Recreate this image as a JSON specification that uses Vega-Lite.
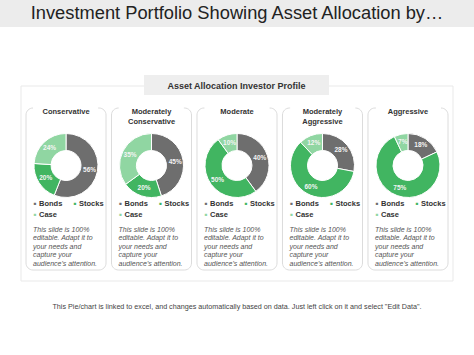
{
  "$schema": "https://vega.github.io/schema/vega-lite/v6.json",
  "width": 474,
  "height": 355,
  "padding": 0,
  "autosize": {"type": "none"},
  "background": "white",
  "config": {
    "view": {"stroke": null},
    "axis": {"disable": true},
    "legend": {"disable": true},
    "font": "Liberation Sans"
  },
  "datasets": {
    "alloc": [
      {"profile": "Conservative", "asset": "Bonds", "pct": 56, "order": 1},
      {"profile": "Conservative", "asset": "Stocks", "pct": 20, "order": 2},
      {"profile": "Conservative", "asset": "Case", "pct": 24, "order": 3},
      {"profile": "Moderately Conservative", "asset": "Bonds", "pct": 45, "order": 1},
      {"profile": "Moderately Conservative", "asset": "Stocks", "pct": 20, "order": 2},
      {"profile": "Moderately Conservative", "asset": "Case", "pct": 35, "order": 3},
      {"profile": "Moderate", "asset": "Bonds", "pct": 40, "order": 1},
      {"profile": "Moderate", "asset": "Stocks", "pct": 50, "order": 2},
      {"profile": "Moderate", "asset": "Case", "pct": 10, "order": 3},
      {"profile": "Moderately Aggressive", "asset": "Bonds", "pct": 28, "order": 1},
      {"profile": "Moderately Aggressive", "asset": "Stocks", "pct": 60, "order": 2},
      {"profile": "Moderately Aggressive", "asset": "Case", "pct": 12, "order": 3},
      {"profile": "Aggressive", "asset": "Bonds", "pct": 18, "order": 1},
      {"profile": "Aggressive", "asset": "Stocks", "pct": 75, "order": 2},
      {"profile": "Aggressive", "asset": "Case", "pct": 7, "order": 3}
    ],
    "panels": [
      {"profile": "Conservative", "title": "Conservative", "note": "This slide is 100%\neditable. Adapt it to\nyour needs and\ncapture your\naudience's attention."},
      {"profile": "Moderately Conservative", "title": "Moderately\nConservative", "note": "This slide is 100%\neditable. Adapt it to\nyour needs and\ncapture your\naudience's attention."},
      {"profile": "Moderate", "title": "Moderate", "note": "This slide is 100%\neditable. Adapt it to\nyour needs and\ncapture your\naudience's attention."},
      {"profile": "Moderately Aggressive", "title": "Moderately\nAggressive", "note": "This slide is 100%\neditable. Adapt it to\nyour needs and\ncapture your\naudience's attention."},
      {"profile": "Aggressive", "title": "Aggressive", "note": "This slide is 100%\neditable. Adapt it to\nyour needs and\ncapture your\naudience's attention."}
    ],
    "titles": [
      {"kind": "main", "label": "Investment Portfolio Showing Asset Allocation by…"},
      {"kind": "header", "label": "Asset Allocation Investor Profile"},
      {"kind": "foot", "label": "This Pie/chart is linked to excel, and changes automatically based on data. Just left click on it and select \"Edit Data\"."}
    ]
  },
  "resolve": {"scale": {"x": "independent", "color": "shared"}},
  "layer": [
    {
      "data": {"values": [{}]},
      "mark": {"type": "rect", "fill": "#ececec"},
      "encoding": {
        "y": {"datum": 0, "type": "quantitative", "scale": {"domain": [0, 355], "reverse": true, "zero": false, "nice": false}},
        "y2": {"datum": 27}
      }
    },
    {
      "data": {"name": "titles"},
      "transform": [{"filter": "datum.kind === 'main'"}],
      "mark": {"type": "text", "fontSize": 18.3, "fill": "#222222", "baseline": "middle", "align": "center"},
      "encoding": {
        "y": {"datum": 14, "type": "quantitative"},
        "text": {"field": "label"}
      }
    },
    {
      "data": {"values": [{}]},
      "mark": {"type": "rect", "fill": "white", "stroke": "#e9e9e9", "strokeWidth": 1},
      "encoding": {
        "x": {"datum": 21, "type": "quantitative", "scale": {"domain": [0, 474], "zero": false, "nice": false}},
        "x2": {"datum": 453},
        "y": {"datum": 86, "type": "quantitative"},
        "y2": {"datum": 281}
      }
    },
    {
      "data": {"values": [{}]},
      "mark": {"type": "rect", "fill": "#eeeeee"},
      "encoding": {
        "x": {"datum": 144, "type": "quantitative", "scale": {"domain": [0, 474], "zero": false, "nice": false}},
        "x2": {"datum": 329},
        "y": {"datum": 75, "type": "quantitative"},
        "y2": {"datum": 95}
      }
    },
    {
      "data": {"name": "titles"},
      "transform": [{"filter": "datum.kind === 'header'"}],
      "mark": {"type": "text", "fontSize": 9, "fontWeight": "bold", "fill": "#333333", "baseline": "middle", "align": "center"},
      "encoding": {
        "x": {"datum": 236.5, "type": "quantitative", "scale": {"domain": [0, 474], "zero": false, "nice": false}},
        "y": {"datum": 85.5, "type": "quantitative"},
        "text": {"field": "label"}
      }
    },
    {
      "data": {"name": "panels"},
      "mark": {"type": "rect", "fill": "white", "stroke": "#dcdcdc", "strokeWidth": 1, "cornerRadius": 7},
      "encoding": {
        "x": {"field": "profile", "type": "nominal", "sort": null, "scale": {"type": "band", "range": [26, 448], "paddingInner": 0.064, "paddingOuter": 0}},
        "y": {"datum": 108, "type": "quantitative"},
        "y2": {"datum": 270}
      }
    },
    {
      "data": {"name": "panels"},
      "mark": {"type": "rect", "fill": "white"},
      "encoding": {
        "x": {"field": "profile", "type": "nominal", "sort": null, "scale": {"type": "band", "range": [33, 441], "paddingInner": 0.24, "paddingOuter": 0}},
        "y": {"datum": 106, "type": "quantitative"},
        "y2": {"datum": 110}
      }
    },
    {
      "data": {"name": "panels"},
      "mark": {"type": "text", "fontSize": 7.5, "fontWeight": "bold", "fill": "#333333", "baseline": "top", "align": "center", "lineBreak": "\n", "lineHeight": 10},
      "encoding": {
        "x": {"field": "profile", "type": "nominal", "sort": null, "scale": {"type": "band", "range": [26, 448], "paddingInner": 0.064, "paddingOuter": 0}},
        "y": {"datum": 108, "type": "quantitative"},
        "text": {"field": "title"}
      }
    },
    {
      "data": {"name": "alloc"},
      "transform": [
        {"stack": "pct", "groupby": ["profile"], "sort": [{"field": "order"}], "as": ["t0", "t1"]}
      ],
      "mark": {"type": "arc", "outerRadius": 32, "innerRadius": 15, "stroke": "white", "strokeWidth": 1},
      "encoding": {
        "x": {"field": "profile", "type": "nominal", "sort": null, "scale": {"type": "band", "range": [26, 448], "paddingInner": 0.064, "paddingOuter": 0}},
        "y": {"datum": 165.5, "type": "quantitative"},
        "theta": {"field": "t0", "type": "quantitative", "stack": null, "scale": {"domain": [0, 100], "zero": true, "nice": false}},
        "theta2": {"field": "t1"},
        "color": {"field": "asset", "type": "nominal", "scale": {"domain": ["Bonds", "Stocks", "Case"], "range": ["#6e6e6e", "#41b561", "#90d6a2"]}, "legend": null}
      }
    },
    {
      "data": {"name": "alloc"},
      "transform": [
        {"stack": "pct", "groupby": ["profile"], "sort": [{"field": "order"}], "as": ["t0", "t1"]},
        {"calculate": "(datum.t0 + datum.t1) / 2", "as": "mid"},
        {"calculate": "datum.pct + '%'", "as": "label"}
      ],
      "mark": {"type": "text", "radius": 24, "fontSize": 6.5, "fontWeight": "bold", "fill": "#f4f4f4", "baseline": "middle", "align": "center"},
      "encoding": {
        "x": {"field": "profile", "type": "nominal", "sort": null, "scale": {"type": "band", "range": [26, 448], "paddingInner": 0.064, "paddingOuter": 0}},
        "y": {"datum": 165.5, "type": "quantitative"},
        "theta": {"field": "mid", "type": "quantitative", "stack": null},
        "text": {"field": "label"}
      }
    },
    {
      "data": {"name": "alloc"},
      "transform": [{"filter": "datum.asset === 'Bonds'"}],
      "mark": {"type": "text", "text": "■", "fontSize": 4.5, "dx": -31, "baseline": "middle", "align": "center"},
      "encoding": {
        "x": {"field": "profile", "type": "nominal", "sort": null, "scale": {"type": "band", "range": [26, 448], "paddingInner": 0.064, "paddingOuter": 0}},
        "y": {"datum": 204, "type": "quantitative"},
        "color": {"field": "asset", "type": "nominal", "legend": null}
      }
    },
    {
      "data": {"name": "alloc"},
      "transform": [{"filter": "datum.asset === 'Stocks'"}],
      "mark": {"type": "text", "text": "■", "fontSize": 4.5, "dx": 9, "baseline": "middle", "align": "center"},
      "encoding": {
        "x": {"field": "profile", "type": "nominal", "sort": null, "scale": {"type": "band", "range": [26, 448], "paddingInner": 0.064, "paddingOuter": 0}},
        "y": {"datum": 204, "type": "quantitative"},
        "color": {"field": "asset", "type": "nominal", "legend": null}
      }
    },
    {
      "data": {"name": "alloc"},
      "transform": [{"filter": "datum.asset === 'Case'"}],
      "mark": {"type": "text", "text": "■", "fontSize": 4.5, "dx": -31, "baseline": "middle", "align": "center"},
      "encoding": {
        "x": {"field": "profile", "type": "nominal", "sort": null, "scale": {"type": "band", "range": [26, 448], "paddingInner": 0.064, "paddingOuter": 0}},
        "y": {"datum": 215, "type": "quantitative"},
        "color": {"field": "asset", "type": "nominal", "legend": null}
      }
    },
    {
      "data": {"name": "alloc"},
      "transform": [{"filter": "datum.asset === 'Bonds'"}],
      "mark": {"type": "text", "fontSize": 7.5, "fontWeight": "bold", "fill": "#333333", "dx": -27, "baseline": "middle", "align": "left"},
      "encoding": {
        "x": {"field": "profile", "type": "nominal", "sort": null, "scale": {"type": "band", "range": [26, 448], "paddingInner": 0.064, "paddingOuter": 0}},
        "y": {"datum": 204, "type": "quantitative"},
        "text": {"field": "asset"}
      }
    },
    {
      "data": {"name": "alloc"},
      "transform": [{"filter": "datum.asset === 'Stocks'"}],
      "mark": {"type": "text", "fontSize": 7.5, "fontWeight": "bold", "fill": "#333333", "dx": 13, "baseline": "middle", "align": "left"},
      "encoding": {
        "x": {"field": "profile", "type": "nominal", "sort": null, "scale": {"type": "band", "range": [26, 448], "paddingInner": 0.064, "paddingOuter": 0}},
        "y": {"datum": 204, "type": "quantitative"},
        "text": {"field": "asset"}
      }
    },
    {
      "data": {"name": "alloc"},
      "transform": [{"filter": "datum.asset === 'Case'"}],
      "mark": {"type": "text", "fontSize": 7.5, "fontWeight": "bold", "fill": "#333333", "dx": -27, "baseline": "middle", "align": "left"},
      "encoding": {
        "x": {"field": "profile", "type": "nominal", "sort": null, "scale": {"type": "band", "range": [26, 448], "paddingInner": 0.064, "paddingOuter": 0}},
        "y": {"datum": 215, "type": "quantitative"},
        "text": {"field": "asset"}
      }
    },
    {
      "data": {"name": "panels"},
      "mark": {"type": "text", "fontSize": 7, "fontStyle": "italic", "fill": "#555555", "dx": -33, "baseline": "top", "align": "left", "lineBreak": "\n", "lineHeight": 8.6},
      "encoding": {
        "x": {"field": "profile", "type": "nominal", "sort": null, "scale": {"type": "band", "range": [26, 448], "paddingInner": 0.064, "paddingOuter": 0}},
        "y": {"datum": 225.5, "type": "quantitative"},
        "text": {"field": "note"}
      }
    },
    {
      "data": {"name": "titles"},
      "transform": [{"filter": "datum.kind === 'foot'"}],
      "mark": {"type": "text", "fontSize": 7.2, "fill": "#444444", "baseline": "middle", "align": "center"},
      "encoding": {
        "y": {"datum": 307, "type": "quantitative"},
        "text": {"field": "label"}
      }
    }
  ]
}
